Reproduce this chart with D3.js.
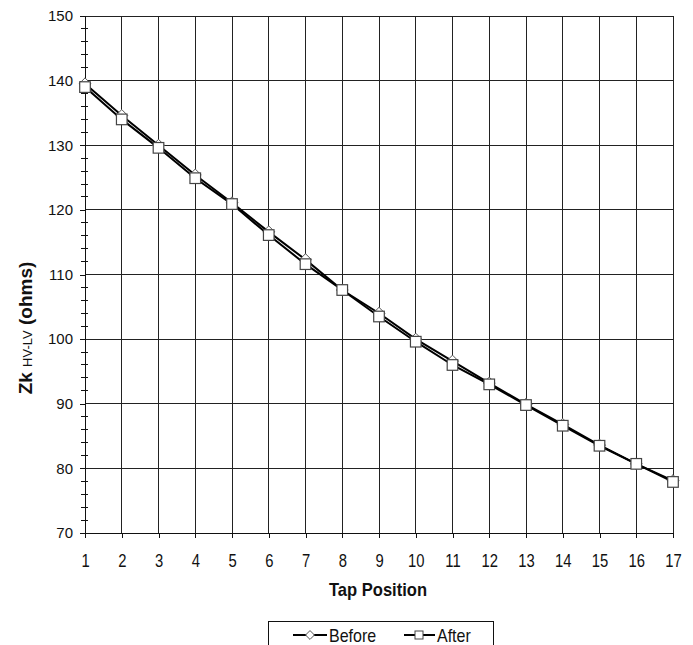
<!DOCTYPE html>
<html><head><meta charset="utf-8">
<script src="https://cdn.jsdelivr.net/npm/d3@7"></script>
<style>body{margin:0;background:#fff} text{font-family:"Liberation Sans",Arial,sans-serif;fill:#111}</style>
</head><body><svg id="c" width="693" height="645"></svg>
<script>
const taps = [1,2,3,4,5,6,7,8,9,10,11,12,13,14,15,16,17];
const before = [139.5,134.6,130.0,125.4,121.1,116.6,112.3,107.6,104.0,100.0,96.6,93.2,89.9,86.8,83.6,80.7,78.1];
const after  = [139.0,134.0,129.6,124.9,120.9,116.1,111.6,107.6,103.5,99.6,96.0,93.0,89.8,86.6,83.5,80.7,77.9];
const yMajor = [70,80,90,100,110,120,130,140,150];
const yMinor = [72,74,76,78,82,84,86,88,92,94,96,98,102,104,106,108,112,114,116,118,122,124,126,128,132,134,136,138,142,144,146,148];
const seriesNames = ["Before","After"];

const svg = d3.select("#c");
const x = d3.scaleLinear().domain([1,17]).range([85,673]);
const y = d3.scaleLinear().domain([70,150]).range([533,16]);

// grid
const g = svg.append("g");
g.selectAll(".vg").data(taps).join("line")
  .attr("x1",d=>x(d)).attr("x2",d=>x(d)).attr("y1",y(70)).attr("y2",y(150))
  .attr("stroke","#222").attr("stroke-width",1).attr("shape-rendering","crispEdges");
g.selectAll(".hg").data(yMajor).join("line")
  .attr("x1",x(1)).attr("x2",x(17)).attr("y1",d=>y(d)).attr("y2",d=>y(d))
  .attr("stroke","#222").attr("stroke-width",1).attr("shape-rendering","crispEdges");

// y axis
const ya = svg.append("g").attr("transform",`translate(${x(1)},0)`)
  .call(d3.axisLeft(y).tickValues(yMajor).tickSize(5).tickPadding(7).tickFormat(d3.format("d")));
ya.select(".domain").attr("stroke","#111").attr("shape-rendering","crispEdges");
ya.selectAll(".tick line").attr("stroke","#111").attr("shape-rendering","crispEdges");
ya.selectAll("text").attr("font-size","15px").attr("font-family","'Liberation Sans',Arial,sans-serif").attr("fill","#111");
svg.append("g").selectAll("line").data(yMinor).join("line")
  .attr("x1",x(1)-4).attr("x2",x(1)+3).attr("y1",d=>y(d)).attr("y2",d=>y(d))
  .attr("stroke","#111").attr("shape-rendering","crispEdges");

// x axis
const xa = svg.append("g").attr("transform",`translate(0,${y(70)})`)
  .call(d3.axisBottom(x).tickValues(taps).tickSize(5).tickFormat(d3.format("d")).tickPadding(0));
xa.select(".domain").attr("stroke","#111").attr("shape-rendering","crispEdges");
xa.selectAll(".tick line").attr("stroke","#111").attr("shape-rendering","crispEdges");
xa.selectAll("text").attr("font-size","19px").attr("font-family","'Liberation Sans',Arial,sans-serif").attr("fill","#111")
  .attr("dy",null).attr("y",34).attr("transform","scale(0.78,1)");

// lines
const line = d3.line().x((d,i)=>x(taps[i])).y(d=>y(d));
svg.append("path").datum(before).attr("d",line).attr("fill","none").attr("stroke","#000").attr("stroke-width",2);
svg.append("g").selectAll("path").data(before).join("path")
  .attr("d",d3.symbol(d3.symbolDiamond2? d3.symbolDiamond2 : d3.symbolDiamond,90))
  .attr("transform",(d,i)=>`translate(${x(taps[i])},${y(d)})`)
  .attr("fill","#fff").attr("stroke","#555").attr("stroke-width",1);
svg.append("path").datum(after).attr("d",line).attr("fill","none").attr("stroke","#000").attr("stroke-width",2);
svg.append("g").selectAll("rect").data(after).join("rect")
  .attr("x",(d,i)=>x(taps[i])-5.3).attr("y",d=>y(d)-5.3).attr("width",10.6).attr("height",10.6)
  .attr("fill","#fff").attr("stroke","#444").attr("stroke-width",1.2);

// axis titles
svg.append("text").attr("transform","translate(378,596) scale(0.92,1)").attr("text-anchor","middle")
  .attr("font-size","18px").attr("font-weight","bold").text("Tap Position");
const yt = svg.append("text").attr("transform","translate(32,328) rotate(-90) scale(1,1)").attr("text-anchor","middle")
  .attr("font-size","19px").attr("font-weight","bold");
yt.append("tspan").text("Zk ");
yt.append("tspan").attr("font-size","13px").attr("font-weight","normal").text("HV-LV");
yt.append("tspan").text(" (ohms)");

// legend
svg.append("rect").attr("x",268.5).attr("y",621.5).attr("width",225).attr("height",40)
  .attr("fill","#fff").attr("stroke","#111").attr("shape-rendering","crispEdges");
const ly = 635;
const lg = svg.append("g");
lg.append("line").attr("x1",293).attr("x2",327).attr("y1",ly).attr("y2",ly).attr("stroke","#000").attr("stroke-width",2);
lg.append("path").attr("d",d3.symbol(d3.symbolDiamond2? d3.symbolDiamond2 : d3.symbolDiamond,50)).attr("transform",`translate(310,${ly})`)
  .attr("fill","#fff").attr("stroke","#555");
lg.append("text").attr("transform",`translate(329,${ly+7}) scale(0.89,1)`).attr("font-size","18px").text(seriesNames[0]);
lg.append("line").attr("x1",404).attr("x2",435).attr("y1",ly).attr("y2",ly).attr("stroke","#000").attr("stroke-width",2);
lg.append("rect").attr("x",415).attr("y",ly-4).attr("width",8).attr("height",8).attr("fill","#fff").attr("stroke","#444");
lg.append("text").attr("transform",`translate(437,${ly+7}) scale(0.89,1)`).attr("font-size","18px").text(seriesNames[1]);
</script></body></html>
